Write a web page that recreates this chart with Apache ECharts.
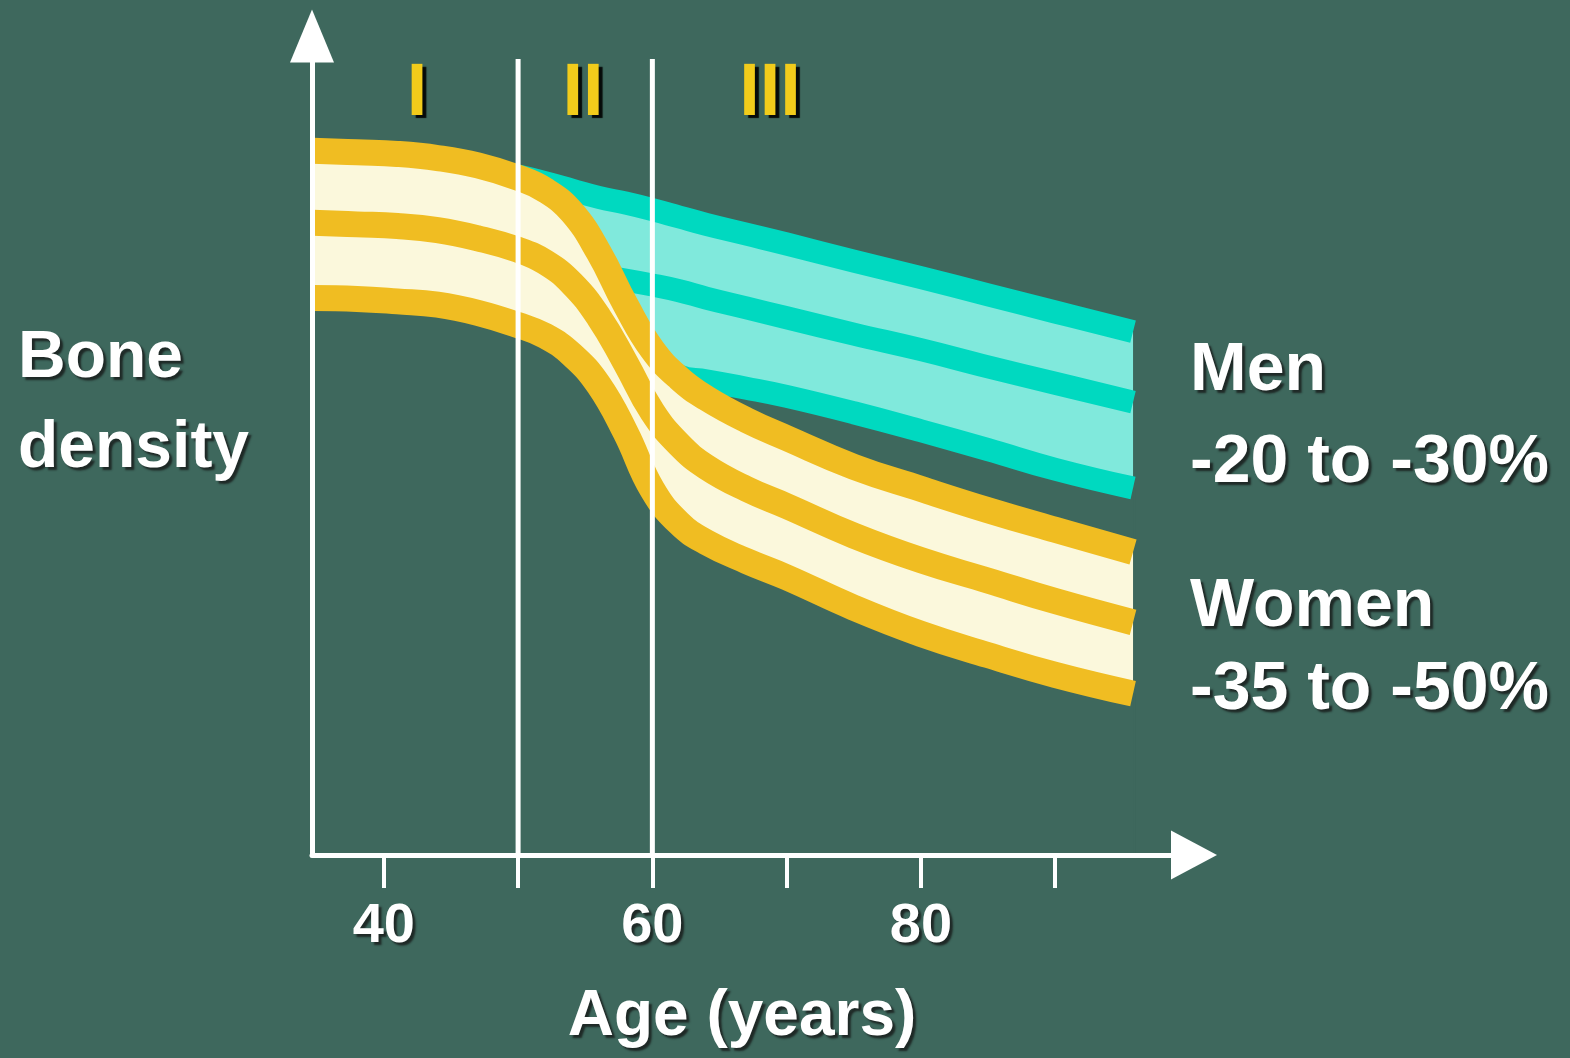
<!DOCTYPE html>
<html>
<head>
<meta charset="utf-8">
<title>Bone density and age</title>
<script src="https://cdn.jsdelivr.net/npm/echarts@6/dist/echarts.min.js"></script>
<style>
  html, body { margin: 0; padding: 0; background: #3e685d; }
  #chart { width: 1570px; height: 1058px; }
</style>
</head>
<body>
<div id="chart"></div>
<script>
// Age (years) sampled along the women's band
const ages = [34.7, 38, 41, 44, 47, 50, 52, 54, 56, 58, 60, 62, 64, 67, 70, 75, 80, 85, 90, 95.8];
// Women: upper, middle and lower curve of the band (relative bone density)
const womenUpper = [86.0, 85.8, 85.6, 85.1, 84.2, 82.7, 81.2, 78.5, 73.6, 67.2, 61.7, 58.2, 55.8, 53.1, 50.9, 47.4, 44.7, 42.1, 39.7, 37.0];
const womenMid   = [77.2, 77.0, 76.8, 76.3, 75.3, 73.9, 72.4, 69.8, 65.7, 60.1, 54.1, 50.1, 47.4, 44.7, 42.6, 39.0, 36.0, 33.5, 31.0, 28.4];
const womenLower = [68.0, 67.9, 67.6, 67.2, 66.2, 64.7, 63.4, 61.1, 57.4, 51.6, 44.6, 40.5, 38.2, 35.9, 33.9, 30.2, 27.0, 24.4, 22.0, 19.7];

// Men: the band branches off the women's upper curve from age 50
const menAges  = [50, 52, 54, 56, 58, 60, 62, 64, 67, 70, 75, 80, 85, 90, 95.8];
const menUpper = [82.9, 82.1, 81.2, 80.3, 79.6, 78.8, 77.9, 77.0, 75.8, 74.6, 72.5, 70.5, 68.4, 66.3, 63.9];
const menLower = [82.7, 81.2, 78.5, 73.6, 67.2, 61.7, 58.5, 57.9, 57.0, 56.0, 54.0, 51.8, 49.5, 47.1, 44.8];
const menMidAges = [56, 58, 60, 62, 64, 67, 70, 75, 80, 85, 90, 95.8];
const menMid     = [70.7, 70.2, 69.6, 68.9, 68.0, 66.8, 65.6, 63.6, 61.7, 59.6, 57.6, 55.3];

// Axis ticks and labels
const ageTicks = [40, 50, 60, 70, 80, 90];
const ageTickLabels = [40, 60, 80];
// Phase boundaries (I | II | III)
const phaseBounds = [50, 60];
const phaseBoundTop = 97.2;
const phaseNames = ['I', 'II', 'III'];

const BG = '#3e685d';
const GOLD = '#f0bd22';
const CREAM = '#fbf8dc';
const TEAL = '#00d9c0';
const TEAL_FILL = '#80e9dc';
const FONT = '"Liberation Sans", Arial, sans-serif';

const pairs = (xs, ys) => xs.map((x, i) => [x, ys[i]]);

const SMOOTH = 0.45;
const base = {
  type: 'line', smooth: SMOOTH, symbol: 'none',
  showSymbol: false, silent: true, animation: false
};

function curve(xs, ys, color, width, z) {
  return Object.assign({}, base, {
    data: pairs(xs, ys), z: z,
    lineStyle: { color: color, width: width, cap: 'butt', join: 'round' }
  });
}
// Area under a curve down to the axis; a band is its upper area with the
// lower area painted over it in the background colour.
function area(xs, ys, color, z, mask) {
  const style = { color: color, opacity: 1, origin: 'start' };
  if (mask) {
    // a 2px shifted copy hides the anti-aliased right edge of the band below
    Object.assign(style, { shadowColor: BG, shadowBlur: 0, shadowOffsetX: 2 });
  }
  return Object.assign({}, base, {
    data: pairs(xs, ys), z: z,
    lineStyle: { width: 0, opacity: 0 },
    areaStyle: style
  });
}

const series = [
  area(menAges, menUpper, TEAL_FILL, 1),
  area(menAges, menLower, BG, 1, true),
  curve(menAges, menUpper, TEAL, 23, 2),
  curve(menMidAges, menMid, TEAL, 23, 2),
  curve(menAges, menLower, TEAL, 23, 2),
  area(ages, womenUpper, CREAM, 3),
  area(ages, womenLower, BG, 3, true),
  curve(ages, womenUpper, GOLD, 26, 4),
  curve(ages, womenMid, GOLD, 26, 4),
  curve(ages, womenLower, GOLD, 26, 4)
].concat(phaseBounds.map(a => ({
  type: 'line', symbol: 'none', silent: true, animation: false, z: 5,
  data: [[a, 0], [a, phaseBoundTop]],
  lineStyle: { color: '#ffffff', width: 5 }
})));
// later series stay above earlier ones
series.forEach((s, i) => { s.z = s.z * 10 + i; });

const shadow = {
  textShadowColor: 'rgba(20,20,20,0.75)',
  textShadowBlur: 2,
  textShadowOffsetX: 3,
  textShadowOffsetY: 3
};

function label(text, x, y, size, align, color, extra) {
  return {
    type: 'text', x: x, y: y, z: 200, silent: true,
    style: Object.assign({
      text: text, fill: color || '#ffffff',
      font: 'bold ' + size + 'px ' + FONT,
      align: align || 'left', verticalAlign: 'middle'
    }, shadow, extra || {})
  };
}

const phaseX = [417, 583, 770];
const graphics = [
  label('Bone', 18, 359, 66),
  label('density', 18, 449, 66),
  label('Men', 1190, 371, 68),
  label('-20 to -30%', 1190, 463, 68),
  label('Women', 1190, 607, 68),
  label('-35 to -50%', 1190, 690, 68),
  label('Age (years)', 742, 1017, 64, 'center')
].concat(phaseNames.map((n, i) =>
  label(n, phaseX[i], 95, 74, 'center', '#f2cc1b', {
    textShadowColor: 'rgba(0,0,0,0.9)', textShadowBlur: 1,
    textShadowOffsetX: 4, textShadowOffsetY: 3
  })
));

const chart = echarts.init(document.getElementById('chart'), null, { renderer: 'canvas' });
chart.setOption({
  backgroundColor: BG,
  animation: false,
  grid: {
    left: 312, right: 376, top: 36, bottom: 203,
    containLabel: false, outerBoundsMode: 'none'
  },
  xAxis: {
    type: 'value', min: 34.65, max: 100.34, z: 150,
    axisLine: {
      show: true, onZero: false,
      symbol: ['none', 'triangle'], symbolSize: [49, 46],
      lineStyle: { color: '#ffffff', width: 5 }
    },
    axisTick: {
      show: true, customValues: ageTicks, length: 33, inside: false,
      lineStyle: { color: '#ffffff', width: 4 }
    },
    axisLabel: Object.assign({
      show: true, customValues: ageTickLabels, color: '#ffffff',
      fontSize: 56, fontWeight: 'bold', fontFamily: FONT, margin: 44
    }, shadow),
    splitLine: { show: false }
  },
  yAxis: {
    type: 'value', min: 0, max: 100, z: 150,
    axisLine: {
      show: true, onZero: false,
      symbol: ['none', 'triangle'], symbolSize: [44, 53],
      lineStyle: { color: '#ffffff', width: 5 }
    },
    axisTick: { show: false },
    axisLabel: { show: false },
    splitLine: { show: false }
  },
  series: series,
  graphic: graphics
});
</script>
</body>
</html>
